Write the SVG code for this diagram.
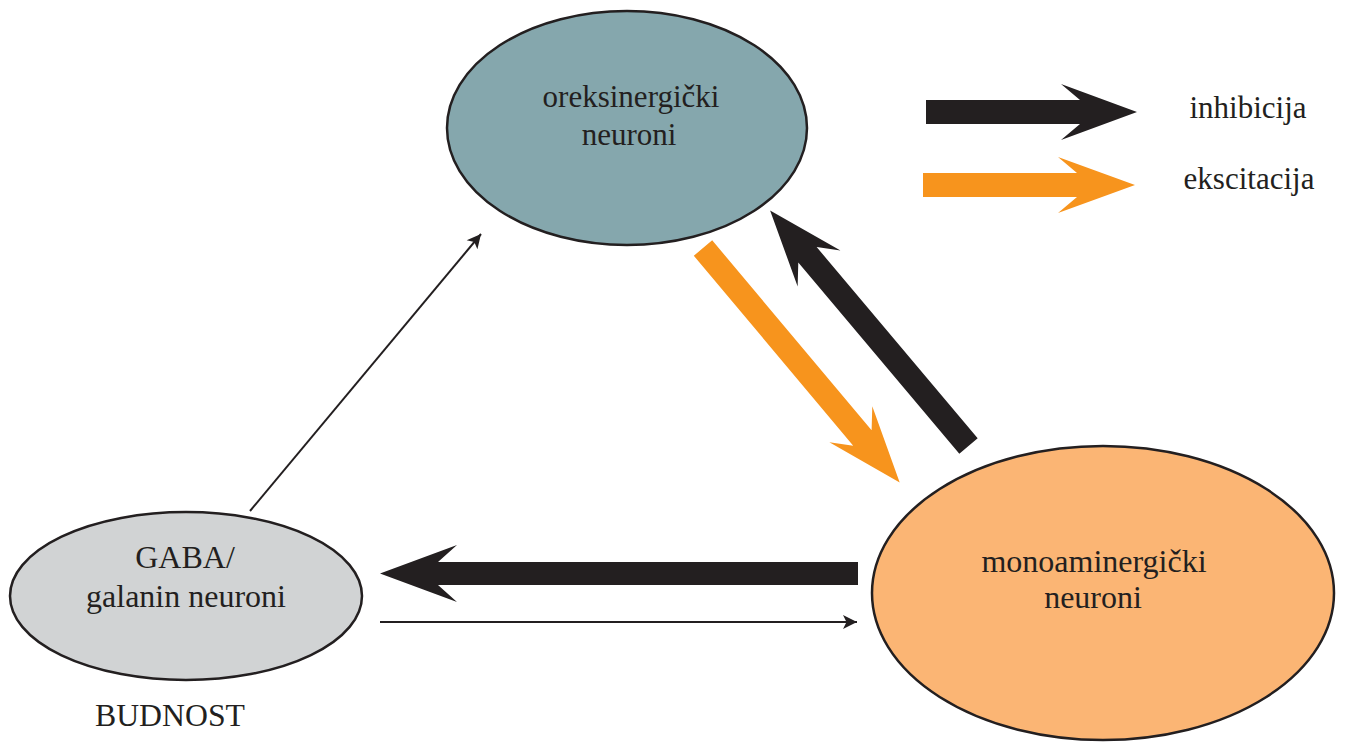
<svg xmlns="http://www.w3.org/2000/svg" width="1345" height="742" viewBox="0 0 1345 742">
<style>
.lbl{font-family:"Liberation Serif","Times New Roman",serif;font-size:31px;fill:#231f20;text-anchor:middle}
.big{font-size:32px}
.node{stroke:#231f20;stroke-width:2.5}
.blk{fill:#231f20}
.org{fill:#f7941d}
.thin{stroke:#231f20;stroke-width:2;fill:none}
</style>
<defs>
<marker id="ah" viewBox="0 0 10 10" refX="10" refY="5" markerWidth="9" markerHeight="7" markerUnits="strokeWidth" orient="auto">
<path d="M0,0 L10,5 L0,10 L2.5,5 Z" fill="#231f20"/>
</marker>
</defs>
<rect width="1345" height="742" fill="#fff"/>
<g id="orexin">
<ellipse class="node" cx="627" cy="128" rx="180" ry="117" fill="#85a7ad"/>
<text class="lbl" x="631" y="107">oreksinergički</text>
<text class="lbl" x="629" y="145">neuroni</text>
</g>
<g id="gaba">
<ellipse class="node" cx="186" cy="596" rx="176" ry="84" fill="#d1d3d4"/>
<text class="lbl big" x="185" y="568">GABA/</text>
<text class="lbl big" x="186" y="607">galanin neuroni</text>
</g>
<g id="mono">
<ellipse class="node" cx="1103" cy="593" rx="231" ry="147" fill="#fbb574"/>
<text class="lbl big" x="1094" y="572">monoaminergički</text>
<text class="lbl big" x="1093" y="608">neuroni</text>
</g>
<g id="budnost">
<text class="lbl big" x="170" y="726" textLength="150" lengthAdjust="spacingAndGlyphs">BUDNOST</text>
</g>
<g id="legend">
<polygon class="blk" points="926,100 1080,100 1061,84 1137,112 1061,140 1080,124 926,124"/>
<text class="lbl" x="1248" y="118">inhibicija</text>
<polygon class="org" points="923,173 1077,173 1058,157 1135,185 1058,213 1077,197 923,197"/>
<text class="lbl" x="1249" y="189">ekscitacija</text>
</g>
<g id="connectors">
<polygon class="org" transform="translate(703,248) rotate(50)" points="0,-12 248,-12 230,-28 306,0 230,28 248,12 0,12"/>
<polygon class="blk" transform="translate(968.5,446) rotate(229.9)" points="0,-12 250,-12 232,-28 308,0 232,28 250,12 0,12"/>
<polygon class="blk" transform="translate(858,573.5) rotate(180)" points="0,-11.5 420,-11.5 401,-28.5 478,0 401,28.5 420,11.5 0,11.5"/>
<line class="thin" x1="380" y1="622" x2="857" y2="622" marker-end="url(#ah)"/>
<line class="thin" x1="250" y1="511" x2="481" y2="234" marker-end="url(#ah)"/>
</g>
</svg>
